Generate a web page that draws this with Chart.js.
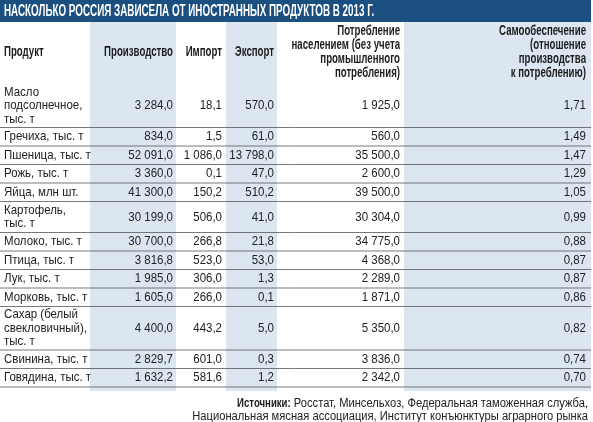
<!DOCTYPE html>
<html><head><meta charset="utf-8">
<script src="https://cdn.jsdelivr.net/npm/chart.js@4"></script>
<style>html,body{margin:0;padding:0;background:#fff}#c{display:block}</style>
</head><body>
<div style="width:593px;height:422px"><canvas id="c"></canvas></div>
<script>
const title = "НАСКОЛЬКО РОССИЯ ЗАВИСЕЛА ОТ ИНОСТРАННЫХ ПРОДУКТОВ В 2013 Г.";
const headers = [["Продукт"],["Производство"],["Импорт"],["Экспорт"],
  ["Потребление","населением (без учета","промышленного","потребления)"],
  ["Самообеспечение","(отношение","производства","к потреблению)"]];
const products = [["Масло","подсолнечное,","тыс. т"],["Гречиха, тыс. т"],["Пшеница, тыс. т"],["Рожь, тыс. т"],["Яйца, млн шт."],["Картофель,","тыс. т"],["Молоко, тыс. т"],["Птица, тыс. т"],["Лук, тыс. т"],["Морковь, тыс. т"],["Сахар (белый","свекловичный),","тыс. т"],["Свинина, тыс. т"],["Говядина, тыс. т"]];
const production = [3284.0,834.0,52091.0,3360.0,41300.0,30199.0,30700.0,3816.8,1985.0,1605.0,4400.0,2829.7,1632.2];
const imports = [18.1,1.5,1086.0,0.1,150.2,506.0,266.8,523.0,306.0,266.0,443.2,601.0,581.6];
const exports = [570.0,61.0,13798.0,47.0,510.2,41.0,21.8,53.0,1.3,0.1,5.0,0.3,1.2];
const consumption = [1925.0,560.0,35500.0,2600.0,39500.0,30304.0,34775.0,4368.0,2289.0,1871.0,5350.0,3836.0,2342.0];
const selfSufficiency = [1.71,1.49,1.47,1.29,1.05,0.99,0.88,0.87,0.87,0.86,0.82,0.74,0.70];
const sourceLabel = "Источники:";
const sourceText = [" Росстат, Минсельхоз, Федеральная таможенная служба,","Национальная мясная ассоциация, Институт конъюнктуры аграрного рынка"];

function fmt(v,d){const s=v.toFixed(d).split('.');const i=s[0].replace(/\B(?=(\d{3})+(?!\d))/g,' ');return i+','+s[1];}
const F='"Liberation Sans",Arial,sans-serif';
function txt(c,t,x,y,align,sx){c.save();c.translate(x,y);c.scale(sx,1);c.textAlign=align;c.fillText(t,0,0);c.restore();}
const tablePlugin={id:'table',afterDraw(ch){
  const c=ch.ctx,X=v=>ch.scales.x.getPixelForValue(v),Y=v=>ch.scales.y.getPixelForValue(v);
  c.save();
  c.fillStyle='#1b4f80';c.fillRect(X(0),Y(0),X(591)-X(0),Y(22)-Y(0));
  c.fillStyle='#fff';c.font='bold 16px '+F;c.textBaseline='middle';
  txt(c,title,X(4),Y(12),'left',0.615);
  c.fillStyle='#dbe6f1';
  [[90,176],[226,277],[404,591]].forEach(([a,b])=>c.fillRect(X(a),Y(22),X(b)-X(a),Y(391)-Y(22)));
  const rights=[null,173,222,274,400,586];
  c.fillStyle='#1e1e1e';c.font='bold 14px '+F;
  headers.forEach((h,i)=>{
    const n=h.length,mid=52,lh=13.8;
    h.forEach((t,k)=>{const y=mid+(k-(n-1)/2)*lh;
      if(i===0)txt(c,t,X(4),Y(y),'left',0.69);
      else txt(c,t,X(rights[i]),Y(y),'right',0.69);});
  });
  let y=84;c.font='13.5px '+F;
  c.strokeStyle='#555';c.lineWidth=0.8;
  products.forEach((p,r)=>{
    const h=6+12.5*p.length,mid=y+h/2;
    c.fillStyle='#222';
    p.forEach((t,k)=>txt(c,t,X(4),Y(mid+(k-(p.length-1)/2)*13.5),'left',0.85));
    const vals=[fmt(production[r],1),fmt(imports[r],1),fmt(exports[r],1),fmt(consumption[r],1),fmt(selfSufficiency[r],2)];
    vals.forEach((v,k)=>txt(c,v,X(rights[k+1]),Y(mid),'right',0.85));
    y+=h;
    c.beginPath();c.moveTo(X(0),Y(y));c.lineTo(X(591),Y(y));c.stroke();
  });
  const s=0.93;c.font='12px '+F;
  const w1=c.measureText(sourceText[0]).width*s;c.font='bold 12px '+F;const w0=c.measureText(sourceLabel).width*0.8;
  let sx=X(588)-w1-w0;txt(c,sourceLabel,sx,Y(404),'left',0.8);c.font='12px '+F;txt(c,sourceText[0],sx+w0,Y(404),'left',s);
  txt(c,sourceText[1],X(588),Y(417),'right',s);
  c.restore();
}};
new Chart(document.getElementById('c'),{type:'scatter',data:{datasets:[{data:[]}]},
 options:{responsive:true,maintainAspectRatio:false,animation:false,layout:{padding:0},
  plugins:{legend:{display:false},tooltip:{enabled:false}},
  scales:{x:{type:'linear',min:0,max:593,display:false},y:{type:'linear',min:0,max:422,reverse:true,display:false}}},
 plugins:[tablePlugin]});
</script></body></html>
